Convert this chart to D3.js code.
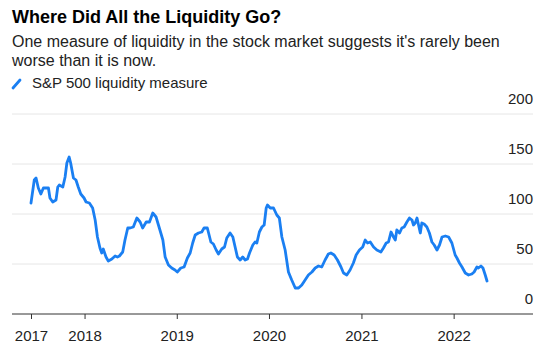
<!DOCTYPE html>
<html>
<head>
<meta charset="utf-8">
<script src="https://cdn.jsdelivr.net/npm/d3@7"></script>
<style>
  body { margin: 0; background: #fff; font-family: "Liberation Sans", Arial, sans-serif; }
  .title { font-weight: bold; font-size: 18px; fill: #000; }
  .subtitle { font-size: 16px; fill: #222; }
  .legend-label { font-size: 15px; fill: #222; }
  .axis-label { font-size: 15px; fill: #222; }
</style>
</head>
<body>
<div id="chart"></div>
<script>
(function () {
  /* ----------------------- Data ----------------------- */
  const dates = [
    "2017-06-03", "2017-06-16", "2017-06-23", "2017-07-02", "2017-07-12", "2017-07-22",
    "2017-08-11", "2017-08-17", "2017-08-28", "2017-09-10", "2017-09-17", "2017-09-23",
    "2017-10-07", "2017-10-16", "2017-10-23", "2017-11-01", "2017-11-07", "2017-11-18",
    "2017-11-28", "2017-12-07", "2017-12-17", "2017-12-30", "2018-01-07", "2018-01-20",
    "2018-02-02", "2018-02-12", "2018-02-21", "2018-03-03", "2018-03-10", "2018-03-16",
    "2018-03-27", "2018-04-05", "2018-04-19", "2018-05-02", "2018-05-11", "2018-05-19",
    "2018-06-01", "2018-06-10", "2018-06-21", "2018-06-30", "2018-07-13", "2018-07-27",
    "2018-08-09", "2018-08-19", "2018-09-02", "2018-09-15", "2018-09-28", "2018-10-11",
    "2018-10-24", "2018-11-07", "2018-11-16", "2018-11-29", "2018-12-12", "2018-12-25",
    "2019-01-03", "2019-01-17", "2019-01-30", "2019-02-12", "2019-02-23", "2019-03-05",
    "2019-03-15", "2019-03-28", "2019-04-10", "2019-04-19", "2019-05-02", "2019-05-16",
    "2019-05-26", "2019-06-06", "2019-06-15", "2019-06-28", "2019-07-09", "2019-07-18",
    "2019-07-31", "2019-08-11", "2019-08-20", "2019-08-29", "2019-09-09", "2019-09-19",
    "2019-09-29", "2019-10-08", "2019-10-16", "2019-10-29", "2019-11-07", "2019-11-14",
    "2019-11-24", "2019-12-04", "2019-12-13", "2019-12-21", "2019-12-26", "2020-01-06",
    "2020-01-19", "2020-02-01", "2020-02-11", "2020-02-21", "2020-03-05", "2020-03-18",
    "2020-03-31", "2020-04-14", "2020-04-27", "2020-05-10", "2020-05-23", "2020-06-05",
    "2020-06-19", "2020-07-02", "2020-07-15", "2020-07-28", "2020-08-10", "2020-08-23",
    "2020-09-02", "2020-09-15", "2020-09-28", "2020-10-12", "2020-10-22", "2020-11-04",
    "2020-11-17", "2020-11-30", "2020-12-11", "2020-12-24", "2021-01-06", "2021-01-16",
    "2021-01-25", "2021-02-05", "2021-02-18", "2021-03-03", "2021-03-19", "2021-03-29",
    "2021-04-09", "2021-04-18", "2021-04-28", "2021-05-08", "2021-05-15", "2021-05-21",
    "2021-06-01", "2021-06-10", "2021-06-19", "2021-06-30", "2021-07-10", "2021-07-20",
    "2021-07-26", "2021-08-02", "2021-08-09", "2021-08-15", "2021-08-22", "2021-08-28",
    "2021-09-06", "2021-09-17", "2021-09-27", "2021-10-07", "2021-10-16", "2021-10-27",
    "2021-11-06", "2021-11-16", "2021-11-29", "2021-12-12", "2021-12-25", "2022-01-07",
    "2022-01-14", "2022-01-24", "2022-02-03", "2022-02-16", "2022-03-01", "2022-03-14",
    "2022-03-23", "2022-04-03", "2022-04-09", "2022-04-19", "2022-04-27", "2022-05-06",
    "2022-05-13"
  ];
  const liquidity = [
    111, 134, 136, 126, 120, 126,
    126, 116, 112, 114, 127, 129,
    127, 137, 151, 157, 151, 136,
    134, 127, 120, 116, 112, 111,
    106, 94, 77, 66, 61, 65,
    57, 53, 55, 58, 57, 58,
    62, 74, 86, 86, 87, 96,
    92, 86, 92, 92, 101, 97,
    86, 74, 57, 49, 46, 44,
    42, 46, 47, 56, 61, 71,
    79, 81, 82, 86, 86, 72,
    70, 64, 60, 65, 67, 76,
    81, 77, 67, 57, 54, 57,
    54, 55, 61, 69, 72, 71,
    82, 87, 89, 106, 109, 106,
    106, 99, 96, 77, 64, 42,
    34, 26, 26, 29, 34, 39,
    42, 46, 48, 47, 54, 60,
    61, 59, 54, 47, 41, 39,
    44, 51, 59, 64, 67, 74,
    71, 72, 67, 64, 62, 66,
    71, 72, 82, 77, 74, 84,
    81, 86, 87, 92, 96, 94,
    89, 91, 96, 89, 81, 91,
    90, 87, 81, 72, 69, 64,
    69, 77, 78, 77, 71, 59,
    56, 51, 47, 41, 39, 40,
    42, 47, 46, 48, 46, 39,
    33
  ];
  const yTicks = [0, 50, 100, 150, 200];
  const xTickYears = ["2018-01-01", "2019-01-01", "2020-01-01", "2021-01-01", "2022-01-01"];

  const title = "Where Did All the Liquidity Go?";
  const subtitleLines = [
    "One measure of liquidity in the stock market suggests it's rarely been",
    "worse than it is now."
  ];
  const seriesName = "S&P 500 liquidity measure";

  /* ----------------------- Dimensions ----------------------- */
  const width = 550;
  const height = 352;
  const lineColor = "#1a7ff2";

  const parseDate = d3.timeParse("%Y-%m-%d");
  const data = dates.map((d, i) => ({ date: parseDate(d), value: liquidity[i] }));

  const svg = d3
    .select("#chart")
    .append("svg")
    .attr("width", width)
    .attr("height", height);

  /* ----------------------- Header ----------------------- */
  svg.append("text").attr("class", "title").attr("x", 12).attr("y", 23).text(title);

  svg
    .selectAll(".subtitle")
    .data(subtitleLines)
    .enter()
    .append("text")
    .attr("class", "subtitle")
    .attr("x", 12)
    .attr("y", (d, i) => 47 + i * 19)
    .text((d) => d);

  svg
    .append("line")
    .attr("x1", 13)
    .attr("y1", 88)
    .attr("x2", 20)
    .attr("y2", 80)
    .attr("stroke", lineColor)
    .attr("stroke-width", 2.8)
    .attr("stroke-linecap", "round");

  svg.append("text").attr("class", "legend-label").attr("x", 32).attr("y", 88).text(seriesName);

  /* ----------------------- Scales ----------------------- */
  const xScale = d3
    .scaleTime()
    .domain(d3.extent(data, (d) => d.date))
    .range([31, 487]);

  const yScale = d3.scaleLinear().domain([0, 200]).range([314, 114]);

  const plotLeft = 12;
  const plotRight = 533;

  // Gridlines
  svg
    .append("g")
    .selectAll("line")
    .data(yTicks.filter((d) => d > 0))
    .enter()
    .append("line")
    .attr("x1", plotLeft)
    .attr("x2", plotRight)
    .attr("y1", (d) => yScale(d))
    .attr("y2", (d) => yScale(d))
    .attr("stroke", "#e6e6e6")
    .attr("stroke-width", 1);

  // Y labels (right side, above the gridline)
  svg
    .append("g")
    .selectAll("text")
    .data(yTicks)
    .enter()
    .append("text")
    .attr("class", "axis-label")
    .attr("x", plotRight)
    .attr("y", (d) => yScale(d) - 10)
    .attr("text-anchor", "end")
    .text((d) => d);

  // X axis
  const xTickValues = [data[0].date].concat(xTickYears.map(parseDate));
  const xAxis = svg
    .append("g")
    .attr("transform", `translate(0,${yScale(0)})`)
    .call(
      d3
        .axisBottom(xScale)
        .tickValues(xTickValues)
        .tickFormat(d3.timeFormat("%Y"))
        .tickSize(5)
        .tickPadding(11)
        .tickSizeOuter(0)
    );
  xAxis.select(".domain").remove();
  xAxis
    .append("line")
    .attr("x1", plotLeft)
    .attr("x2", plotRight)
    .attr("stroke", "#333")
    .attr("stroke-width", 1);
  xAxis.selectAll(".tick line").attr("stroke", "#333");
  xAxis
    .selectAll(".tick text")
    .attr("class", "axis-label")
    .attr("fill", "#222")
    .style("font-family", "'Liberation Sans', Arial, sans-serif");

  /* ----------------------- Line ----------------------- */
  const line = d3
    .line()
    .x((d) => xScale(d.date))
    .y((d) => yScale(d.value))
    .curve(d3.curveLinear);

  svg
    .append("path")
    .datum(data)
    .attr("fill", "none")
    .attr("stroke", lineColor)
    .attr("stroke-width", 2.8)
    .attr("stroke-linejoin", "round")
    .attr("stroke-linecap", "round")
    .attr("d", line);
})();
</script>
</body>
</html>
